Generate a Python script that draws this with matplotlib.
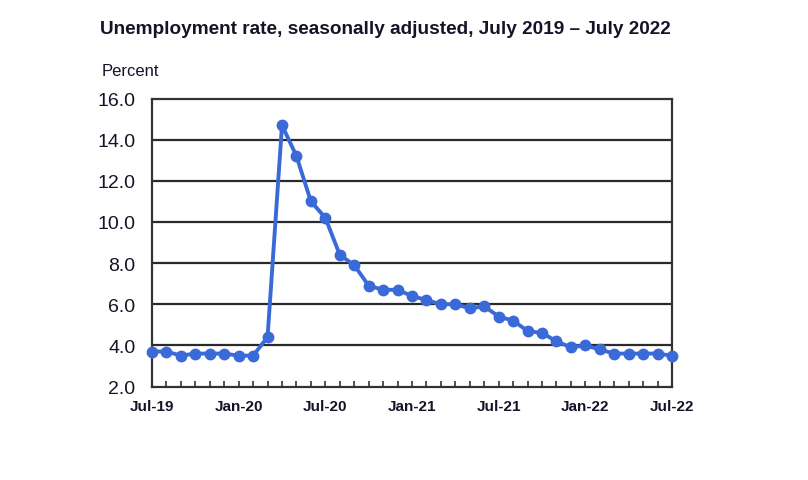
import matplotlib
matplotlib.use("Agg")
import matplotlib.pyplot as plt
import numpy as np

months = ["Jul-19","Aug-19","Sep-19","Oct-19","Nov-19","Dec-19",
          "Jan-20","Feb-20","Mar-20","Apr-20","May-20","Jun-20",
          "Jul-20","Aug-20","Sep-20","Oct-20","Nov-20","Dec-20",
          "Jan-21","Feb-21","Mar-21","Apr-21","May-21","Jun-21",
          "Jul-21","Aug-21","Sep-21","Oct-21","Nov-21","Dec-21",
          "Jan-22","Feb-22","Mar-22","Apr-22","May-22","Jun-22","Jul-22"]
rate = [3.7, 3.7, 3.5, 3.6, 3.6, 3.6,
        3.5, 3.5, 4.4, 14.7, 13.2, 11.0,
        10.2, 8.4, 7.9, 6.9, 6.7, 6.7,
        6.4, 6.2, 6.0, 6.0, 5.8, 5.9,
        5.4, 5.2, 4.7, 4.6, 4.2, 3.9,
        4.0, 3.8, 3.6, 3.6, 3.6, 3.6, 3.5]
label_months = ["Jul-19","Jan-20","Jul-20","Jan-21","Jul-21","Jan-22","Jul-22"]
yticks = [2.0, 4.0, 6.0, 8.0, 10.0, 12.0, 14.0, 16.0]

plt.rcParams['font.family'] = ['Liberation Sans', 'DejaVu Sans']
txt = '#141428'

W, H = 808, 481
fig = plt.figure(figsize=(W/100, H/100), dpi=100)
left, right, top, bottom = 152, 672, 99.5, 387.5
ax = fig.add_axes([left/W, 1-bottom/H, (right-left)/W, (bottom-top)/H])

x = np.arange(len(months))
ax.set_xlim(0, len(months)-1)
ax.set_ylim(yticks[0], yticks[-1])

for y in yticks[1:-1]:
    ax.axhline(y, color='#2a2a2a', lw=1.6, zorder=1)

ax.plot(x, rate, color='#3a6ad8', lw=2.8, marker='o', ms=7.5,
        zorder=3, clip_on=False)

ax.set_yticks(yticks)
ax.set_yticklabels([f"{v:.1f}" for v in yticks], fontsize=14, color=txt)
ax.tick_params(axis='y', length=0, pad=12)

ax.set_xticks(x, minor=True)
ax.set_xticks([months.index(m) for m in label_months])
ax.set_xticklabels(label_months, fontsize=11, fontweight='bold', color=txt)
ax.tick_params(axis='x', which='both', direction='in', length=4, width=1.2,
               color='#333333', pad=9)

for s in ax.spines.values():
    s.set_color('#333333')
    s.set_linewidth(1.6)

fig.text(100/W, 1-30/H, "Unemployment rate, seasonally adjusted, July 2019 \u2013 July 2022",
         fontsize=13.7, fontweight='bold', color=txt, va='center', ha='left')
fig.text(102/W, 1-72/H, "Percent", fontsize=12, color=txt, va='center', ha='left')

fig.savefig("out.png", dpi=100)
